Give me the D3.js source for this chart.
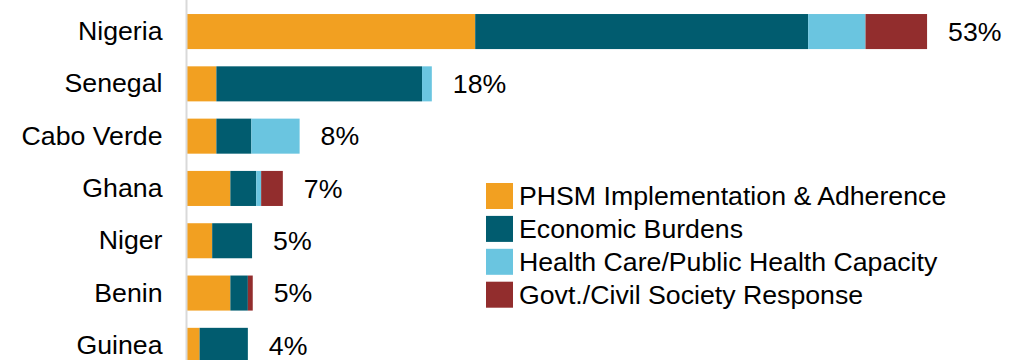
<!DOCTYPE html>
<html>
    <head>
        <meta charset="UTF-8">
        <title>Stacked Bars</title>
        <style>
            body { margin: 0; background: #fff; }
            text { font-family: "Liberation Sans", Arial, sans-serif; fill: #000; }
        </style>
    </head>
    <body>
        <svg></svg>
        <script src="https://d3js.org/d3.v7.min.js"></script>
    <script>
      var countries = ['Nigeria', 'Senegal', 'Cabo Verde', 'Ghana', 'Niger', 'Benin', 'Guinea'];
      var totalLabels = ['53%', '18%', '8%', '7%', '5%', '5%', '4%'];
      // values in percent
      var phsm     = [20.6, 2.1, 2.1, 3.1, 1.8, 3.1, 0.9];
      var economic = [23.8, 14.7, 2.5, 1.85, 2.85, 1.25, 3.45];
      var health   = [4.1, 0.7, 3.45, 0.35, 0, 0, 0];
      var govt     = [4.4, 0, 0, 1.55, 0, 0.35, 0];
      var seriesNames = ['PHSM Implementation & Adherence', 'Economic Burdens',
                         'Health Care/Public Health Capacity', 'Govt./Civil Society Response'];
      var colors = ['#F2A021', '#015C6F', '#6AC5E0', '#922D2D'];

      var vWidth = 1027;
      var vHeight = 360;
      var fontSize = '26.7px';
      var svg = d3.select('svg').attr('width', vWidth).attr('height', vHeight);

      // table for d3.stack
      var rows = countries.map(function (c, i) {
          return { country: c, s0: phsm[i], s1: economic[i], s2: health[i], s3: govt[i], label: totalLabels[i] };
      });
      var keys = ['s0', 's1', 's2', 's3'];
      var stacked = d3.stack().keys(keys)(rows);

      var x = d3.scaleLinear().domain([0, 55]).range([187, 187 + 55 * 13.99]);
      var y = d3.scaleBand().domain(countries).range([5.4, 5.4 + 7 * 52.3])
          .paddingInner(0.33).paddingOuter(0.165);

      // bars
      svg.append('g').selectAll('g').data(stacked).enter().append('g')
          .attr('fill', function (d, i) { return colors[i]; })
          .selectAll('rect').data(function (d) { return d; }).enter().append('rect')
          .attr('x', function (d) { return x(d[0]); })
          .attr('y', function (d) { return y(d.data.country); })
          .attr('width', function (d) { return x(d[1]) - x(d[0]); })
          .attr('height', y.bandwidth());

      // category axis
      var yAxis = svg.append('g').attr('transform', 'translate(186.5,0)')
          .call(d3.axisLeft(y).tickSize(0).tickPadding(24));
      yAxis.select('.domain').attr('stroke', '#d9d9d9').attr('stroke-width', 2)
          .attr('d', 'M0,0V' + vHeight);
      yAxis.selectAll('text').style('font-size', fontSize)
          .style('font-family', '"Liberation Sans", Arial, sans-serif');

      // total labels
      svg.append('g').selectAll('text').data(rows).enter().append('text')
          .attr('x', function (d, i) { return x(stacked[3][i][1]) + 21; })
          .attr('y', function (d) { return y(d.country) + y.bandwidth() / 2; })
          .attr('dy', '0.35em')
          .style('font-size', fontSize)
          .text(function (d) { return d.label; });

      // legend
      var legend = svg.append('g').selectAll('g').data(seriesNames).enter().append('g')
          .attr('transform', function (d, i) { return 'translate(486,' + (183 + i * 32.9) + ')'; });
      legend.append('rect').attr('width', 27).attr('height', 26)
          .attr('fill', function (d, i) { return colors[i]; });
      legend.append('text').attr('x', 33).attr('y', 13).attr('dy', '0.35em')
          .style('font-size', fontSize)
          .text(function (d) { return d; });
    </script>
    </body>
</html>
